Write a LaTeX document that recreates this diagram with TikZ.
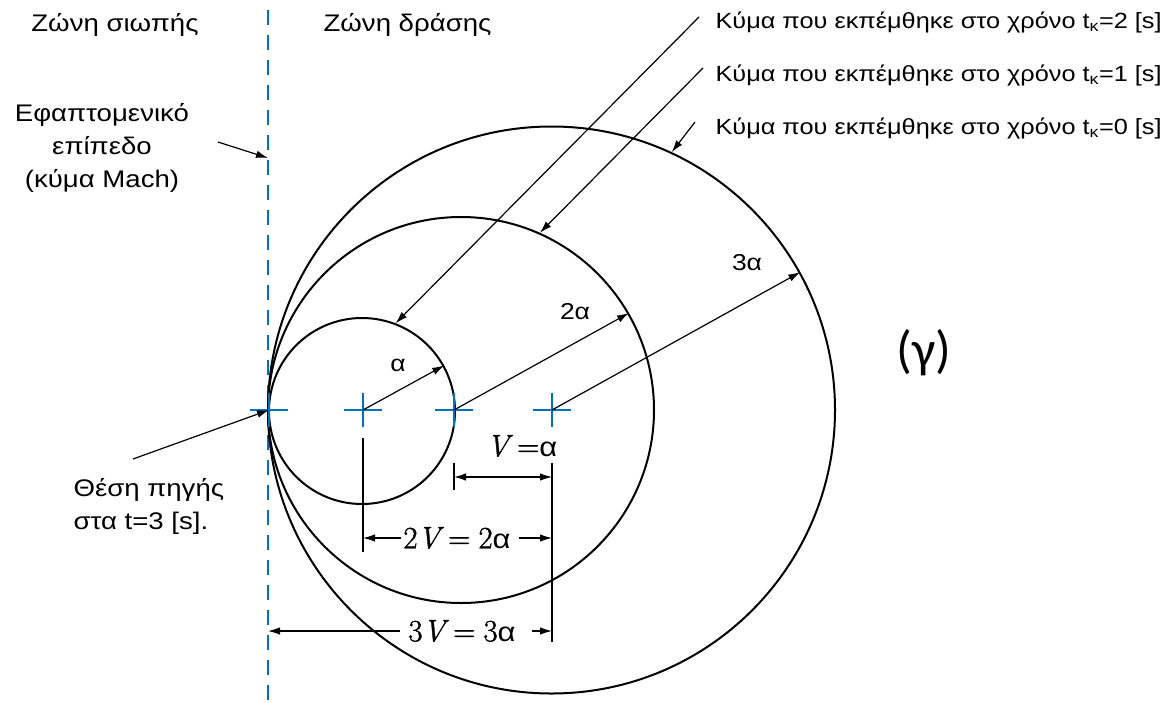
\documentclass[tikz,border=0pt]{standalone}
\usepackage{fontspec}
\setmainfont{Liberation Sans}[FakeStretch=1.15]
\newfontfamily\calib{Carlito}
\newfontfamily\lmr{Latin Modern Roman}[FakeBold=1.2]
\newcommand{\mV}{{\lmr\itshape V}}
\newcommand{\mN}[1]{{\lmr #1}}
\newcommand{\dA}{{\fontsize{27}{30}\selectfont α}}
\usetikzlibrary{arrows.meta,calc}
\definecolor{mblue}{RGB}{0,114,188}
\begin{document}
\begin{tikzpicture}[x=1pt,y=-1pt,
  wave/.style={draw,circle,line width=2pt,inner sep=0pt},
  arr/.style={line width=1.2pt,-{Latex[length=12pt,width=7.5pt]}},
  darr/.style={line width=1.2pt,{Latex[length=12pt,width=7.5pt]}-{Latex[length=12pt,width=7.5pt]}},
  ext/.style={line width=1.2pt},
  cross/.style={mblue,line width=1.2pt},
  zone/.style={font=\fontsize{24}{28}\selectfont},
  lab/.style={font=\fontsize{24}{33}\selectfont},
  klab/.style={anchor=west,font=\fontsize{22}{24}\selectfont},
  alab/.style={font=\fontsize{23}{26}\selectfont},
  dlab/.style={font=\fontsize{31}{34}\selectfont,inner sep=2pt}
]
\useasboundingbox (0,0) rectangle (1164,702);

% dashed Mach line
\coordinate (dtop) at (268,10);
\coordinate (dbot) at (268,700);
\coordinate (d1) at (268,158);
\draw[mblue,line width=2.5pt,dash pattern=on 15pt off 10pt] (dtop) -- (dbot);

% wave circles
\node[wave,minimum size=186pt] (w2) at (362,411) {};
\node[wave,minimum size=386pt] (w1) at (461,410) {};
\node[wave,minimum size=567pt] (w0) at (551.5,410) {};

% source and centres
\coordinate (s) at (269,410);
\coordinate (c2) at (363,410);
\coordinate (c1) at (454,410);
\coordinate (c0) at (552,410);
\foreach \p in {s,c2,c1,c0}{
  \draw[cross] ($(\p)+(-19,0)$) -- ($(\p)+(19,0)$);
  \draw[cross] ($(\p)+(0,-17)$) -- ($(\p)+(0,17)$);
}

% radius arrows
\draw[arr] (c2) -- (w2.29);
\draw[arr] (c1) -- (w1.30);
\draw[arr] (c0) -- (w0.29.5);
\node[alab] at (398,365) {α};
\node[alab] at (575,312) {2α};
\node[alab] at (747,263) {3α};

% zone labels
\node[zone] (zs) at (115,25) {Ζώνη σιωπής};
\node[zone,anchor=west] (zd) at (320,25) {Ζώνη δράσης};

% tangent plane label
\node[lab,align=center] (tp) at (102,148) {Εφαπτομενικό\\επίπεδο\\(κύμα Mach)};
\coordinate (tpa) at (218,142);
\draw[arr] (tpa) -- (d1);

% source label
\node[lab,align=left,anchor=west] (sl) at (70,506) {Θέση πηγής\\στα t=3 [s].};
\coordinate (sla) at (133,459);
\draw[arr] (sla) -- (s);

% wave labels
\node[klab] (k2) at (712,22) {Κύμα που εκπέμθηκε στο χρόνο t\textsubscript{κ}=2 [s]};
\node[klab] (k1) at (712,75) {Κύμα που εκπέμθηκε στο χρόνο t\textsubscript{κ}=1 [s]};
\node[klab] (k0) at (712,128) {Κύμα που εκπέμθηκε στο χρόνο t\textsubscript{κ}=0 [s]};
\coordinate (k2a) at (699,17);
\coordinate (k1a) at (703,68);
\coordinate (k0a) at (695,122);
\draw[arr] (k2a) -- (w2.69);
\draw[arr] (k1a) -- (w1.66.5);
\draw[arr] (k0a) -- (w0.65.7);

% dimension extension lines
\coordinate (x2a) at (363,438); \coordinate (x2b) at (363,552);
\coordinate (x1a) at (454,463); \coordinate (x1b) at (454,490);
\coordinate (x0a) at (552,463); \coordinate (x0b) at (552,642);
\draw[ext] (x2a) -- (x2b);
\draw[ext] (x1a) -- (x1b);
\draw[ext] (x0a) -- (x0b);

% V = a
\coordinate (v1l) at (454,477); \coordinate (v1r) at (552,477);
\draw[darr] (v1l) -- (v1r);
\node[dlab] (tv) at (522,446) {\mV\hspace{8pt}\mN{=}\dA};

% 2V = 2a
\coordinate (v2l) at (363,538); \coordinate (v2r) at (552,538);
\node[dlab] (t2) at (457,538) {\mN{2}\mV\hspace{8pt}\mN{=}\hspace{8pt}\mN{2}\dA};
\draw[arr] (t2.west) -- (v2l);
\draw[arr] ($(t2.east)+(6,0)$) -- (v2r);

% 3V = 3a
\coordinate (v3l) at (268,631); \coordinate (v3r) at (552,631);
\node[dlab] (t3) at (462,631) {\mN{3}\mV\hspace{8pt}\mN{=}\hspace{8pt}\mN{3}\dA};
\draw[arr] ($(t3.west)+(-6,0)$) -- (v3l);
\draw[arr] ($(t3.east)+(14,0)$) -- (v3r);

% panel label
\node[font=\calib\fontsize{52}{56}\selectfont] (g) at (924,353) {(γ)};
\end{tikzpicture}
\end{document}
